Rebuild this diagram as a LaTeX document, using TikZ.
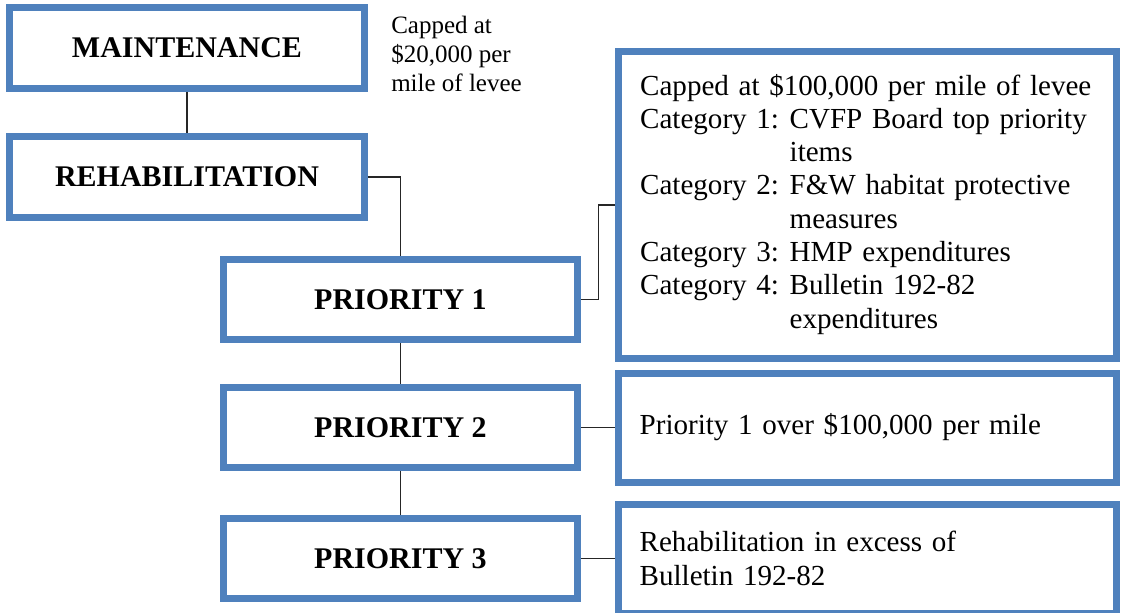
\documentclass[tikz,border=0pt]{standalone}
\usepackage{fontspec}
\setmainfont{Liberation Serif}
\usetikzlibrary{positioning}
\definecolor{boxblue}{RGB}{79,129,189}

\begin{document}
\begin{tikzpicture}[x=0.75pt,y=-0.75pt,
		stage/.style={draw=boxblue, line width=5.25pt, minimum width=266pt, minimum height=60.5pt, font=\fontsize{22.5}{27}\selectfont\bfseries},
		detail/.style={draw=boxblue, line width=5.25pt, minimum width=373.5pt, text width=341pt, inner xsep=16pt, align=left, font=\fontsize{21.8}{25}\selectfont},
		note/.style={inner sep=0pt, align=left, font=\fontsize{18.75}{21.75}\selectfont},
		link/.style={line width=1pt, black!85}]
		\useasboundingbox (0,0) rectangle (1121,613);
		\node[stage] (maint) at (187,48) {MAINTENANCE};
		\node[stage] (rehab) at (187,177) {REHABILITATION};
		\node[note, anchor=north west] (cap20) at (391,16) {Capped at\\\$20,000 per\\mile of levee};
		%%
		\node[stage] (p1) at (400.5,299.5) {PRIORITY 1};
		\node[stage] (p2) at (400.5,427.5) {PRIORITY 2};
		\node[stage] (p3) at (400.5,558.5) {PRIORITY 3};
		%%
		\node[detail, minimum height=230.25pt] (cats) at (867.5,205) {%
			\begin{tabular}{@{}l@{\hspace{8pt}}l@{}}
				\multicolumn{2}{@{}l@{}}{Capped at \$100,000 per mile of levee}\\
				Category 1: & CVFP Board top priority\\
				            & items\\
				Category 2: & F\&W habitat protective\\
				            & measures\\
				Category 3: & HMP expenditures\\
				Category 4: & Bulletin 192-82\\
				            & expenditures
			\end{tabular}};
		\node[detail, minimum height=81.75pt] (over) at (867,427.5) {Priority 1 over \$100,000 per mile};
		\node[detail, minimum height=81.75pt] (excess) at (867,558.5) {Rehabilitation in excess of\\Bulletin 192-82};
		%%
		\draw[link] (maint)--(rehab);
		\draw[link] (rehab.east) -| (p1.north);
		\draw[link] (p1)--(p2);
		\draw[link] (p2)--(p3);
		\draw[link] (p1.east) -- ++(17,0) |- (cats.west);
		\draw[link] (p2)--(over);
		\draw[link] (p3)--(excess);
	\end{tikzpicture}
\end{document}
